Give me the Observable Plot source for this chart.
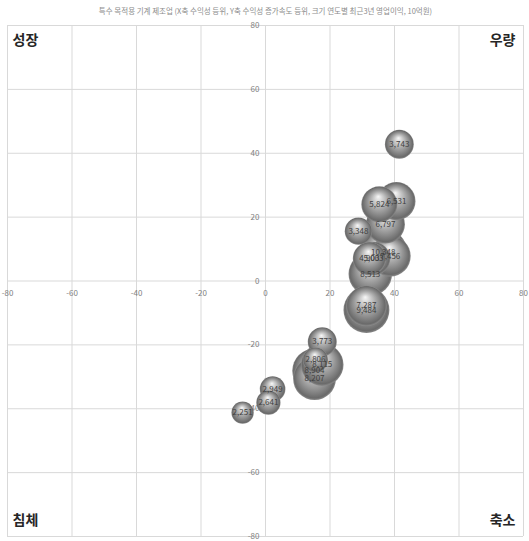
<!DOCTYPE html>
<html>
<head>
<meta charset="utf-8">
<script src="https://cdn.jsdelivr.net/npm/d3@7"></script>
<script src="https://cdn.jsdelivr.net/npm/@observablehq/plot@0.6"></script>
<style>
  html, body { margin: 0; padding: 0; background: #fff; }
  #chart svg { display: block; }
</style>
</head>
<body>
<div id="chart"></div>
<script>
// 특수 목적용 기계 제조업: 수익성 등위(x) vs 수익성 증가속도 등위(y), 버블 크기 = 최근 3년 영업이익 (10억원)
const title = "특수 목적용 기계 제조업 (X축 수익성 등위, Y축 수익성 증가속도 등위, 크기 연도별 최근3년 영업이익, 10억원)";

// bubbles listed back to front
const rankX  = [41.5, 35.3, 40.6, 28.8, 37.2, 32.5, 32.2, 33.5, 38.7, 36.5, 31.3, 31.3, 17.6, 17.6, 15.5, 15.2, 15.2, 2.2, 0.9, -7.1];
const rankY  = [42.8, 24.0, 25.0, 15.6, 17.8, 2.2, 7.0, 7.0, 7.8, 9.0, -9.1, -7.8, -19.0, -26.2, -24.7, -30.6, -28.1, -33.8, -38.1, -41.2];
const profit = [3743, 5824, 6531, 3348, 6797, 8513, 4903, 5003, 7456, 10348, 9484, 7287, 3773, 8115, 2806, 8207, 8904, 2949, 2641, 2251];

const ticks = [-80, -60, -40, -20, 0, 20, 40, 60, 80];
const quadNames = ["성장", "우량", "침체", "축소"];
const quadX = [-80, 80, -80, 80];
const quadY = [80, 80, -80, -80];

const bubbles = profit.map((v, i) => ({x: rankX[i], y: rankY[i], v, label: d3.format(",")(v)}));
const quadrants = quadNames.map((name, i) => ({name, qx: quadX[i], qy: quadY[i]}));

const font = "'Noto Sans CJK KR', 'Noto Sans', sans-serif";

// quadrant captions sit inside each corner of the frame
const corner = (filter, anchor, dx, dy) => Plot.text(quadrants.filter(filter), {
  x: "qx", y: "qy", text: "name", textAnchor: anchor, dx, dy,
  fontSize: 14, fontWeight: "bold", fill: "#262626"
});

const plot = Plot.plot({
  width: 529,
  height: 541,
  marginTop: 25,
  marginBottom: 5,
  marginLeft: 7,
  marginRight: 6,
  style: {fontFamily: font, background: "#fff"},
  x: {domain: [-80, 80], axis: null},
  y: {domain: [-80, 80], axis: null},
  r: {domain: [0, 10348], range: [0, 24]},
  marks: [
    Plot.ruleX(ticks, {stroke: "#d9d9d9", strokeWidth: 1}),
    Plot.ruleY(ticks, {stroke: "#d9d9d9", strokeWidth: 1}),
    // y tick labels beside the vertical zero line
    Plot.text(ticks, {x: 0, y: d => d, text: d => String(d), textAnchor: "end", dx: -6, fill: "#808080", fontSize: 8}),
    // x tick labels under the horizontal zero line
    Plot.text(ticks, {x: d => d, y: 0, text: d => String(d), dy: 12, fill: "#808080", fontSize: 8}),
    Plot.dot(bubbles, {x: "x", y: "y", r: "v", fill: "url(#sphere)", stroke: "none"}),
    Plot.text(bubbles, {x: "x", y: "y", text: "label", fill: "#404040", fontSize: 8}),
    corner(d => d.qx < 0 && d.qy > 0, "start", 5, 15),
    corner(d => d.qx > 0 && d.qy > 0, "end", -8, 15),
    corner(d => d.qx < 0 && d.qy < 0, "start", 5, -16),
    corner(d => d.qx > 0 && d.qy < 0, "end", -8, -16),
    Plot.text([title], {frameAnchor: "top", dy: -17, fill: "#8c8c8c", fontSize: 7.5})
  ]
});

document.getElementById("chart").appendChild(plot);

// shade each bubble as a lit sphere
const svg = d3.select(plot);
const defs = svg.insert("defs", ":first-child");
const grad = defs.append("radialGradient")
  .attr("id", "sphere")
  .attr("cx", "0.5").attr("cy", "0.5").attr("r", "0.5")
  .attr("fx", "0.47").attr("fy", "0.28");
[[0, "#f7f7f7"], [0.2, "#d6d6d6"], [0.5, "#a8a8a8"], [0.82, "#7a7a7a"], [0.93, "#6a6a6a"], [1, "#8a8a8a"]]
  .forEach(([o, c]) => grad.append("stop").attr("offset", o).attr("stop-color", c));
</script>
</body>
</html>
